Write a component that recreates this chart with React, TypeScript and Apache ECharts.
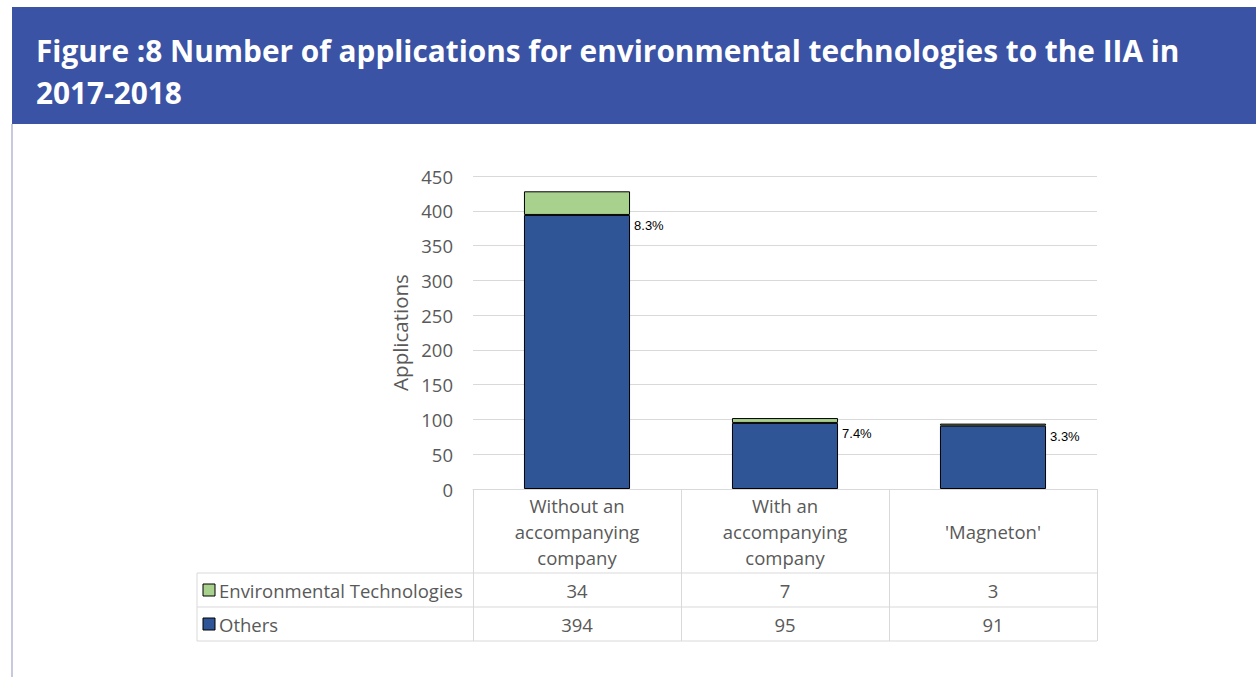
import React, { useEffect, useRef } from "react";
import * as echarts from "echarts";

const titleText = "Figure :8 Number of applications for environmental technologies to the IIA in\n2017-2018";
const categories = ["Without an\naccompanying\ncompany", "With an\naccompanying\ncompany", "'Magneton'"];
const seriesNames = ["Environmental Technologies", "Others"];
const envTech = [34, 7, 3];
const others = [394, 95, 91];
const shareLabels = ["8.3%", "7.4%", "3.3%"];
const yMin = 0;
const yMax = 450;
const yInterval = 50;

const BLUE = "#2F5597";
const GREEN = "#A9D18E";
const GRID = "#D9D9D9";
const TXT = "#595959";
const FONT = "'Open Sans', sans-serif";
const FS = 18.5;

export default function App() {
  const ref = useRef<HTMLDivElement>(null);
  useEffect(() => {
    document.body.style.margin = "0";
    const chart = echarts.init(ref.current!, null, { renderer: "svg" });
    const gridLeft = 473, gridRight = 159, gridTop = 176, gridBottom = 188;
    const option: any = {
      animation: false,
      backgroundColor: "#ffffff",
      grid: { left: gridLeft, right: gridRight, top: gridTop, bottom: gridBottom, containLabel: false },
      xAxis: {
        type: "category",
        data: categories,
        axisLine: { show: true, lineStyle: { color: GRID, width: 1 } },
        axisTick: { show: true, length: 152, lineStyle: { color: GRID, width: 1 } },
        axisLabel: {
          color: TXT, fontSize: FS, fontFamily: FONT, lineHeight: 26, margin: 42,
          verticalAlign: "middle", interval: 0,
        },
      },
      yAxis: {
        type: "value",
        min: yMin,
        max: yMax,
        interval: yInterval,
        name: "Applications",
        nameLocation: "middle",
        nameGap: 63,
        nameTextStyle: { color: TXT, fontSize: 20.5, fontFamily: FONT },
        axisLine: { show: false },
        axisTick: { show: false },
        axisLabel: { color: TXT, fontSize: FS, fontFamily: FONT, margin: 20 },
        splitLine: { lineStyle: { color: GRID, width: 1 } },
      },
      series: [
        {
          name: seriesNames[1],
          type: "bar",
          stack: "total",
          data: others,
          barWidth: "51%",
          itemStyle: { color: BLUE, borderColor: "#000000", borderWidth: 1 },
          label: {
            show: true,
            position: ["100%", 0],
            align: "left",
            verticalAlign: "top",
            padding: [4, 0, 0, 4],
            color: "#000000",
            fontSize: 13,
            fontFamily: "'Liberation Sans', Arial, sans-serif",
            formatter: (p: any) => shareLabels[p.dataIndex],
          },
        },
        {
          name: seriesNames[0],
          type: "bar",
          stack: "total",
          data: envTech,
          barWidth: "51%",
          itemStyle: { color: GREEN, borderColor: "#000000", borderWidth: 1 },
        },
      ],
    };
    chart.setOption(option);

    const xs = categories.map((_, i) => chart.convertToPixel({ xAxisIndex: 0 }, i) as number);
    const y0 = chart.convertToPixel({ yAxisIndex: 0 }, 0) as number;
    const tableLeft = 197;
    const tableRight = 1256 - gridRight;
    const headerH = 84;
    const rowH = 34;
    const r1 = y0 + headerH;
    const r2 = r1 + rowH;
    const r3 = r2 + rowH;
    const rows = [envTech, others];
    const colors = [GREEN, BLUE];

    const g: any[] = [
      { type: "rect", shape: { x: 12, y: 7, width: 1244, height: 117 }, style: { fill: "#3A53A4" } },
      {
        type: "text",
        x: 36,
        y: 29,
        style: {
          text: titleText,
          fill: "#ffffff",
          font: "bold 29.8px 'Open Sans', sans-serif",
          lineHeight: 42,
        },
      },
      { type: "line", shape: { x1: 12, y1: 124, x2: 12, y2: 677 }, style: { stroke: "#C7CADF", lineWidth: 2 } },
      { type: "line", shape: { x1: tableLeft, y1: r1, x2: tableRight, y2: r1 }, style: { stroke: GRID, lineWidth: 1 } },
      { type: "line", shape: { x1: tableLeft, y1: r2, x2: tableRight, y2: r2 }, style: { stroke: GRID, lineWidth: 1 } },
      { type: "line", shape: { x1: tableLeft, y1: r3, x2: tableRight, y2: r3 }, style: { stroke: GRID, lineWidth: 1 } },
      { type: "line", shape: { x1: tableLeft, y1: r1, x2: tableLeft, y2: r3 }, style: { stroke: GRID, lineWidth: 1 } },
    ];
    rows.forEach((vals, ri) => {
      const cy = r1 + rowH * ri + rowH / 2;
      g.push({
        type: "rect",
        shape: { x: tableLeft + 6, y: cy - 6, width: 12, height: 12 },
        style: { fill: colors[ri], stroke: "#000000", lineWidth: 1 },
      });
      g.push({
        type: "text",
        x: tableLeft + 22,
        y: cy,
        style: { text: seriesNames[ri], fill: TXT, fontSize: FS, fontFamily: FONT, verticalAlign: "middle", align: "left" },
      });
      vals.forEach((v, ci) => {
        g.push({
          type: "text",
          x: xs[ci],
          y: cy,
          style: { text: String(v), fill: TXT, fontSize: FS, fontFamily: FONT, verticalAlign: "middle", align: "center" },
        });
      });
    });
    chart.setOption({ graphic: g });
    return () => chart.dispose();
  }, []);
  return <div ref={ref} style={{ width: 1256, height: 677 }} />;
}
